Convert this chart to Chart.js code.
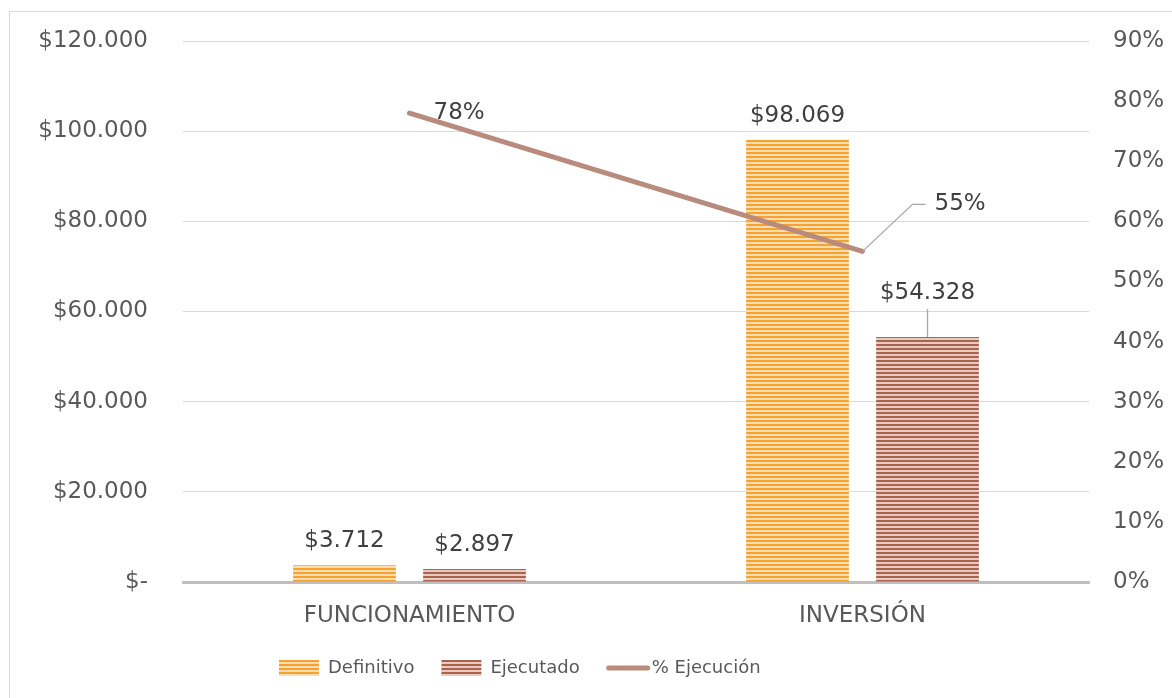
<!DOCTYPE html>
<html>
<head>
<meta charset="utf-8">
<script src="https://cdn.jsdelivr.net/npm/chart.js@4.4.1/dist/chart.umd.min.js"></script>
<style>
  html, body { margin: 0; padding: 0; background: #fff; }
</style>
</head>
<body>
<canvas id="chart" width="1172" height="698"></canvas>
<script>
// datos
const categories = ['FUNCIONAMIENTO', 'INVERSIÓN'];
const definitivo = [3712, 98069];
const ejecutado = [2897, 54328];
const pctEjecucion = [78, 55];
const seriesNames = ['Definitivo', 'Ejecutado', '% Ejecución'];

const FONT = 'DejaVu Sans, Verdana, sans-serif';
const TEXT = '#595959';
const LABEL = '#404040';
const LINE_COLOR = '#B98B7D';

const canvas = document.getElementById('chart');
const ctx = canvas.getContext('2d');

// rayas horizontales como en el original
function stripes(dark, light) {
    const p = document.createElement('canvas');
    p.width = 4; p.height = 4;
    const g = p.getContext('2d');
    g.fillStyle = light; g.fillRect(0, 0, 4, 4);
    g.fillStyle = dark; g.fillRect(0, 0, 4, 2);
    return ctx.createPattern(p, 'repeat');
}
const orangeFill = stripes('#F4A230', '#FBDDB0');
const brownFill = stripes('#AC634D', '#E8CBC0');

function money(v) {
    if (v === 0) return '$-';
    return '$' + v.toLocaleString('de-DE');
}

// ubicacion de las etiquetas (estilo, no datos)
const barLabelLift = [[0, 0], [0, -20]];

const labelsPlugin = {
    id: 'labels',
    beforeDraw(chart) {
        const c = chart.ctx;
        c.save();
        c.strokeStyle = '#d9d9d9';
        c.lineWidth = 1;
        c.strokeRect(9.5, 11.5, 1250, 800);
        c.restore();
    },
    afterDatasetsDraw(chart) {
        const c = chart.ctx;
        c.save();
        c.font = '23px ' + FONT;
        c.fillStyle = LABEL;
        c.textAlign = 'center';
        c.textBaseline = 'middle';
        [0, 1].forEach(di => {
            const meta = chart.getDatasetMeta(di);
            meta.data.forEach((bar, i) => {
                const lift = barLabelLift[di][i];
                const y = bar.y - 24 + lift;
                c.fillText(money(chart.data.datasets[di].data[i]), bar.x, y);
                if (lift < 0) {
                    c.strokeStyle = '#a6a6a6';
                    c.lineWidth = 1.3;
                    c.beginPath();
                    c.moveTo(bar.x, y + 16);
                    c.lineTo(bar.x, bar.y);
                    c.stroke();
                }
            });
        });
        const lm = chart.getDatasetMeta(2);
        lm.data.forEach((pt, i) => {
            const txt = chart.data.datasets[2].data[i] + '%';
            c.textAlign = 'left';
            if (i === 0) {
                c.fillText(txt, pt.x + 24, pt.y);
            } else {
                c.strokeStyle = '#a6a6a6';
                c.lineWidth = 1.3;
                c.beginPath();
                c.moveTo(pt.x, pt.y);
                c.lineTo(pt.x + 50, pt.y - 47);
                c.lineTo(pt.x + 63, pt.y - 47);
                c.stroke();
                c.fillText(txt, pt.x + 72, pt.y - 47);
            }
        });
        c.restore();
    },
    afterDraw(chart) {
        // leyenda inferior
        const c = chart.ctx;
        c.save();
        c.font = '18px ' + FONT;
        c.fillStyle = TEXT;
        c.textBaseline = 'middle';
        const yc = 668;
        let x = 279;
        const fills = [orangeFill, brownFill];
        seriesNames.forEach((name, i) => {
            if (i < 2) {
                c.fillStyle = fills[i];
                c.fillRect(x, yc - 8, 40, 16);
                x += 49;
            } else {
                c.strokeStyle = LINE_COLOR;
                c.lineWidth = 5;
                c.lineCap = 'round';
                c.beginPath();
                c.moveTo(x + 2, yc);
                c.lineTo(x + 41, yc);
                c.stroke();
                x += 45;
            }
            c.fillStyle = TEXT;
            c.fillText(name, x, yc);
            x += c.measureText(name).width + 27;
        });
        c.restore();
    }
};

function noPad(s) {
    s.paddingTop = 0;
    s.paddingBottom = 0;
}

new Chart(ctx, {
    type: 'bar',
    data: {
        labels: categories,
        datasets: [
            {
                label: seriesNames[0],
                data: definitivo,
                backgroundColor: orangeFill,
                categoryPercentage: 0.574,
                barPercentage: 0.79,
                yAxisID: 'y',
                order: 1
            },
            {
                label: seriesNames[1],
                data: ejecutado,
                backgroundColor: brownFill,
                categoryPercentage: 0.574,
                barPercentage: 0.79,
                yAxisID: 'y',
                order: 2
            },
            {
                type: 'line',
                label: seriesNames[2],
                data: pctEjecucion,
                borderColor: LINE_COLOR,
                backgroundColor: LINE_COLOR,
                borderWidth: 5,
                borderCapStyle: 'round',
                pointRadius: 0,
                yAxisID: 'y1',
                order: 0
            }
        ]
    },
    options: {
        responsive: false,
        animation: false,
        layout: { padding: { top: 41, left: 0, right: 0, bottom: 0 } },
        plugins: {
            legend: { display: false },
            tooltip: { enabled: false }
        },
        scales: {
            x: {
                grid: { display: false, drawTicks: false },
                border: { color: '#bfbfbf', width: 3 },
                ticks: { color: TEXT, font: { family: FONT, size: 23 }, padding: 20 },
                afterFit(s) { s.height = 116; s.paddingLeft = 0; s.paddingRight = 0; }
            },
            y: {
                position: 'left',
                min: 0,
                max: 120000,
                ticks: {
                    stepSize: 20000,
                    color: TEXT,
                    font: { family: FONT, size: 23 },
                    padding: 35,
                    callback: v => money(v)
                },
                grid: {
                    drawTicks: false,
                    color: ctx2 => ctx2.tick && ctx2.tick.value === 0 ? 'rgba(0,0,0,0)' : '#d9d9d9',
                    lineWidth: 1
                },
                border: { display: false },
                afterFit(s) { s.width = 183; noPad(s); }
            },
            y1: {
                position: 'right',
                min: 0,
                max: 90,
                ticks: {
                    stepSize: 10,
                    color: TEXT,
                    font: { family: FONT, size: 23 },
                    padding: 24,
                    callback: v => v + '%'
                },
                grid: { display: false, drawTicks: false },
                border: { display: false },
                afterFit(s) { s.width = 83; noPad(s); }
            }
        }
    },
    plugins: [labelsPlugin]
});
</script>
</body>
</html>
